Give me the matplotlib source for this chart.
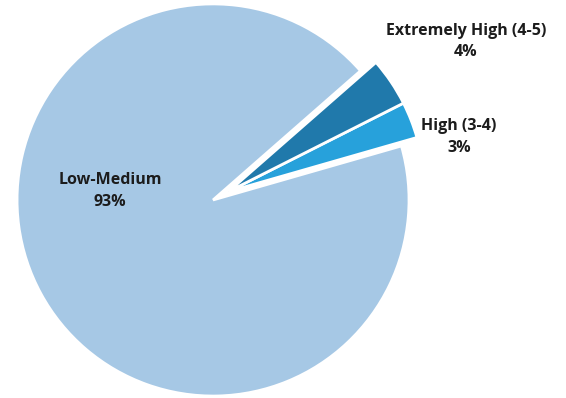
import numpy as np
import matplotlib.pyplot as plt

# Andel per kategori (prosent)
kategorier = ['High (3-4)', 'Extremely High (4-5)', 'Low-Medium']
andeler = [3, 4, 93]
farger = ['#27a1db', '#2079ab', '#a6c8e5']
start = 16

fig = plt.figure(figsize=(5.66, 3.98), dpi=100)
ax = fig.add_axes([0, 0, 1, 1])

wedges, _ = ax.pie(andeler, colors=farger, startangle=start,
                   counterclock=True, radius=1.0,
                   wedgeprops=dict(edgecolor='white', linewidth=2))

# Flytt de to små sektorene ut sammen, langs felles midtlinje
spenn = (andeler[0] + andeler[1]) / 100 * 360
midt = np.deg2rad(start + spenn / 2)
forskyvning = 0.09
for w in wedges[:2]:
    w.set_center((forskyvning * np.cos(midt), forskyvning * np.sin(midt)))

ax.set_xlim(-1.087, 1.801)
ax.set_ylim(-1.010, 1.020)
ax.set_aspect('auto')
ax.axis('off')

# Etiketter med navn og prosent
etikett_pos = {
    'Low-Medium': (-0.526, 0.046),
    'Extremely High (4-5)': (1.291, 0.809),
    'High (3-4)': (1.255, 0.321),
}
for navn, verdi in zip(kategorier, andeler):
    x, y = etikett_pos[navn]
    ax.text(x, y, f"{navn}\n{verdi}%", ha='center', va='center',
            fontsize=11.5, fontweight='bold', color='#1c1c1c',
            family='Open Sans', linespacing=1.45)

fig.savefig('out.png', dpi=100)
